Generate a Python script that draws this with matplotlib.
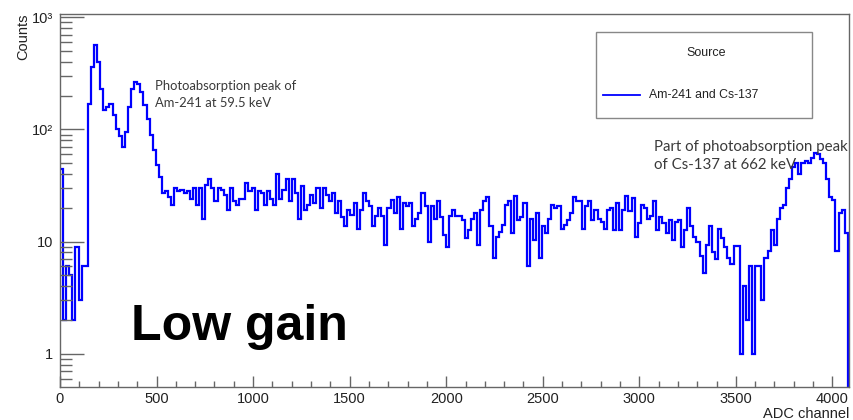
import numpy as np
import matplotlib
matplotlib.use("Agg")
import matplotlib.pyplot as plt
from matplotlib.patches import Rectangle
from matplotlib.lines import Line2D
from matplotlib.ticker import LogLocator, MultipleLocator, NullFormatter

# Spectrum: 16-channel bins over the 12-bit ADC range (0..4096)
bin_width = 16
counts = [
    # 0 - 656 : noise edge, Am-241 region
    44, 2, 6, 5, 2, 9, 3, 6, 6, 170,
    360, 570, 400, 230, 150, 160, 170, 135, 100, 88,
    70, 95, 160, 230, 265, 255, 215, 165, 125, 90,
    65, 48, 38, 27, 28, 25, 21, 30, 28, 29,
    27,
    # 656 - 1360 : Compton plateau
    28, 24, 30, 21, 30, 16, 32, 36, 30, 23,
    30, 29, 26, 19, 30, 23, 21, 24, 24, 33,
    28, 30, 19, 28, 27, 21, 28, 24, 21, 40,
    24, 29, 36, 23, 36, 27, 16, 31, 19, 21,
    26, 22, 30, 20,
    # 1360 - 2032
    30, 26, 23, 27, 18, 23, 16.5, 13.7, 19, 17.3,
    22, 13, 19, 27, 23, 20.6, 13.7, 17, 20, 17,
    9.4, 20, 23.7, 18, 25, 13, 22, 20.6, 22, 13.7,
    16, 18, 27, 20.6, 10, 20.6, 16, 23, 16.5, 11.5,
    9, 17,
    # 2032 - 2688
    19, 17, 17, 15.7, 10.7, 12.8, 16, 18, 9.4, 19,
    23, 25, 13.7, 7.2, 11, 12.3, 14, 21, 23, 12,
    25.5, 15.7, 16.5, 22, 6, 16, 10.4, 18, 7.2, 13.7,
    12, 16, 21, 20, 20.6, 13, 14, 15.7, 18, 25,
    23,
    # 2688 - 3376
    23, 13, 20.6, 23, 15.7, 19, 16, 15, 13, 19,
    20, 12.8, 22, 12.8, 19, 25.4, 18.6, 24.7, 11, 14.7,
    21, 20, 16, 17, 23, 12.8, 16.7, 14.7, 12, 15.7,
    10.4, 15, 15.7, 8.9, 12.8, 20, 13.7, 11, 10, 7.4,
    5.3, 9.4, 13.7,
    # 3376 - 4096 : Compton edge dip and Cs-137 peak
    8, 7, 13, 10.7, 9, 7.2, 6.3, 9.2, 9.2, 1,
    4, 2, 6, 1, 6, 6, 3, 7.2, 8.2, 12.8,
    9.4, 16, 20, 21, 30, 36, 46, 50, 40, 50,
    52, 50, 56, 62, 60, 54, 50, 36, 25, 23.7,
    8.2, 18, 19, 12, 0,
]
edges = np.arange(len(counts) + 1) * bin_width

x_ticks = [0, 500, 1000, 1500, 2000, 2500, 3000, 3500, 4000]
y_ticks = [1, 10, 100, 1000]
y_tick_labels = ["1", "10", "10²", "10³"]

W, H = 854, 420
plt.rcParams["font.family"] = ["Liberation Sans", "DejaVu Sans"]

fig = plt.figure(figsize=(W / 100, H / 100), dpi=100)
ax = fig.add_axes([60 / W, 1 - 387 / H, 789 / W, 373 / H])

ax.stairs(counts, edges, baseline=None, color="#0000ff", linewidth=1.6)

ax.set_yscale("log", nonpositive="clip")
ax.set_xlim(0, 4086)
ax.set_ylim(0.505, 1070)

ax.set_xticks(x_ticks)
ax.set_xticklabels([str(t) for t in x_ticks])
ax.xaxis.set_minor_locator(MultipleLocator(100))
ax.set_yticks(y_ticks)
ax.set_yticklabels(y_tick_labels)
ax.yaxis.set_minor_locator(LogLocator(base=10, subs=np.arange(2, 10)))
ax.yaxis.set_minor_formatter(NullFormatter())

axis_grey = "#666666"
for side in ax.spines.values():
    side.set_color(axis_grey)
    side.set_linewidth(1.0)
ax.tick_params(axis="both", which="both", direction="in", color=axis_grey,
               labelcolor="#222222", labelsize=10.5, top=False, right=False)
ax.tick_params(axis="y", which="major", length=17, width=1, pad=5)
ax.tick_params(axis="y", which="minor", length=8.5, width=1)
ax.tick_params(axis="x", which="major", length=8, width=1, pad=3.5)
ax.tick_params(axis="x", which="minor", length=4, width=1)

# axis titles, ROOT style (flush with the ends of the axes)
fig.text(23 / W, 1 - 13 / H, "Counts", rotation=90, ha="center", va="top",
         fontsize=10.5, color="#222222")
fig.text(849 / W, 1 - 414 / H, "ADC channel", ha="right", va="center",
         fontsize=10.5, color="#222222")

# peak annotations
note_font = ["Lato", "DejaVu Sans"]
fig.text(155 / W, 1 - 94.5 / H, "Photoabsorption peak of\nAm-241 at 59.5 keV",
         fontsize=9.4, color="#3a3a3a", family=note_font,
         ha="left", va="center", linespacing=1.45)
fig.text(654 / W, 1 - 156 / H, "Part of photoabsorption peak\nof Cs-137 at 662 keV",
         fontsize=10.8, color="#3a3a3a", family=note_font,
         ha="left", va="center", linespacing=1.4)

fig.text(131 / W, 1 - 340 / H, "Low gain", fontsize=36, fontweight="bold",
         color="black", ha="left", va="baseline")

# legend box
fig.add_artist(Rectangle((596 / W, 1 - 118 / H), 216 / W, 86 / H,
                         transform=fig.transFigure, facecolor="white",
                         edgecolor="#888888", linewidth=1.0))
fig.text(706 / W, 1 - 53 / H, "Source", ha="center", va="center",
         fontsize=9, color="#222222")
fig.add_artist(Line2D([603 / W, 640 / W], [1 - 95 / H, 1 - 95 / H],
                      transform=fig.transFigure, color="#0000ff", linewidth=1.3))
fig.text(649 / W, 1 - 95 / H, "Am-241 and Cs-137", ha="left", va="center",
         fontsize=8.8, color="#222222")

fig.savefig("out.png", dpi=100)
